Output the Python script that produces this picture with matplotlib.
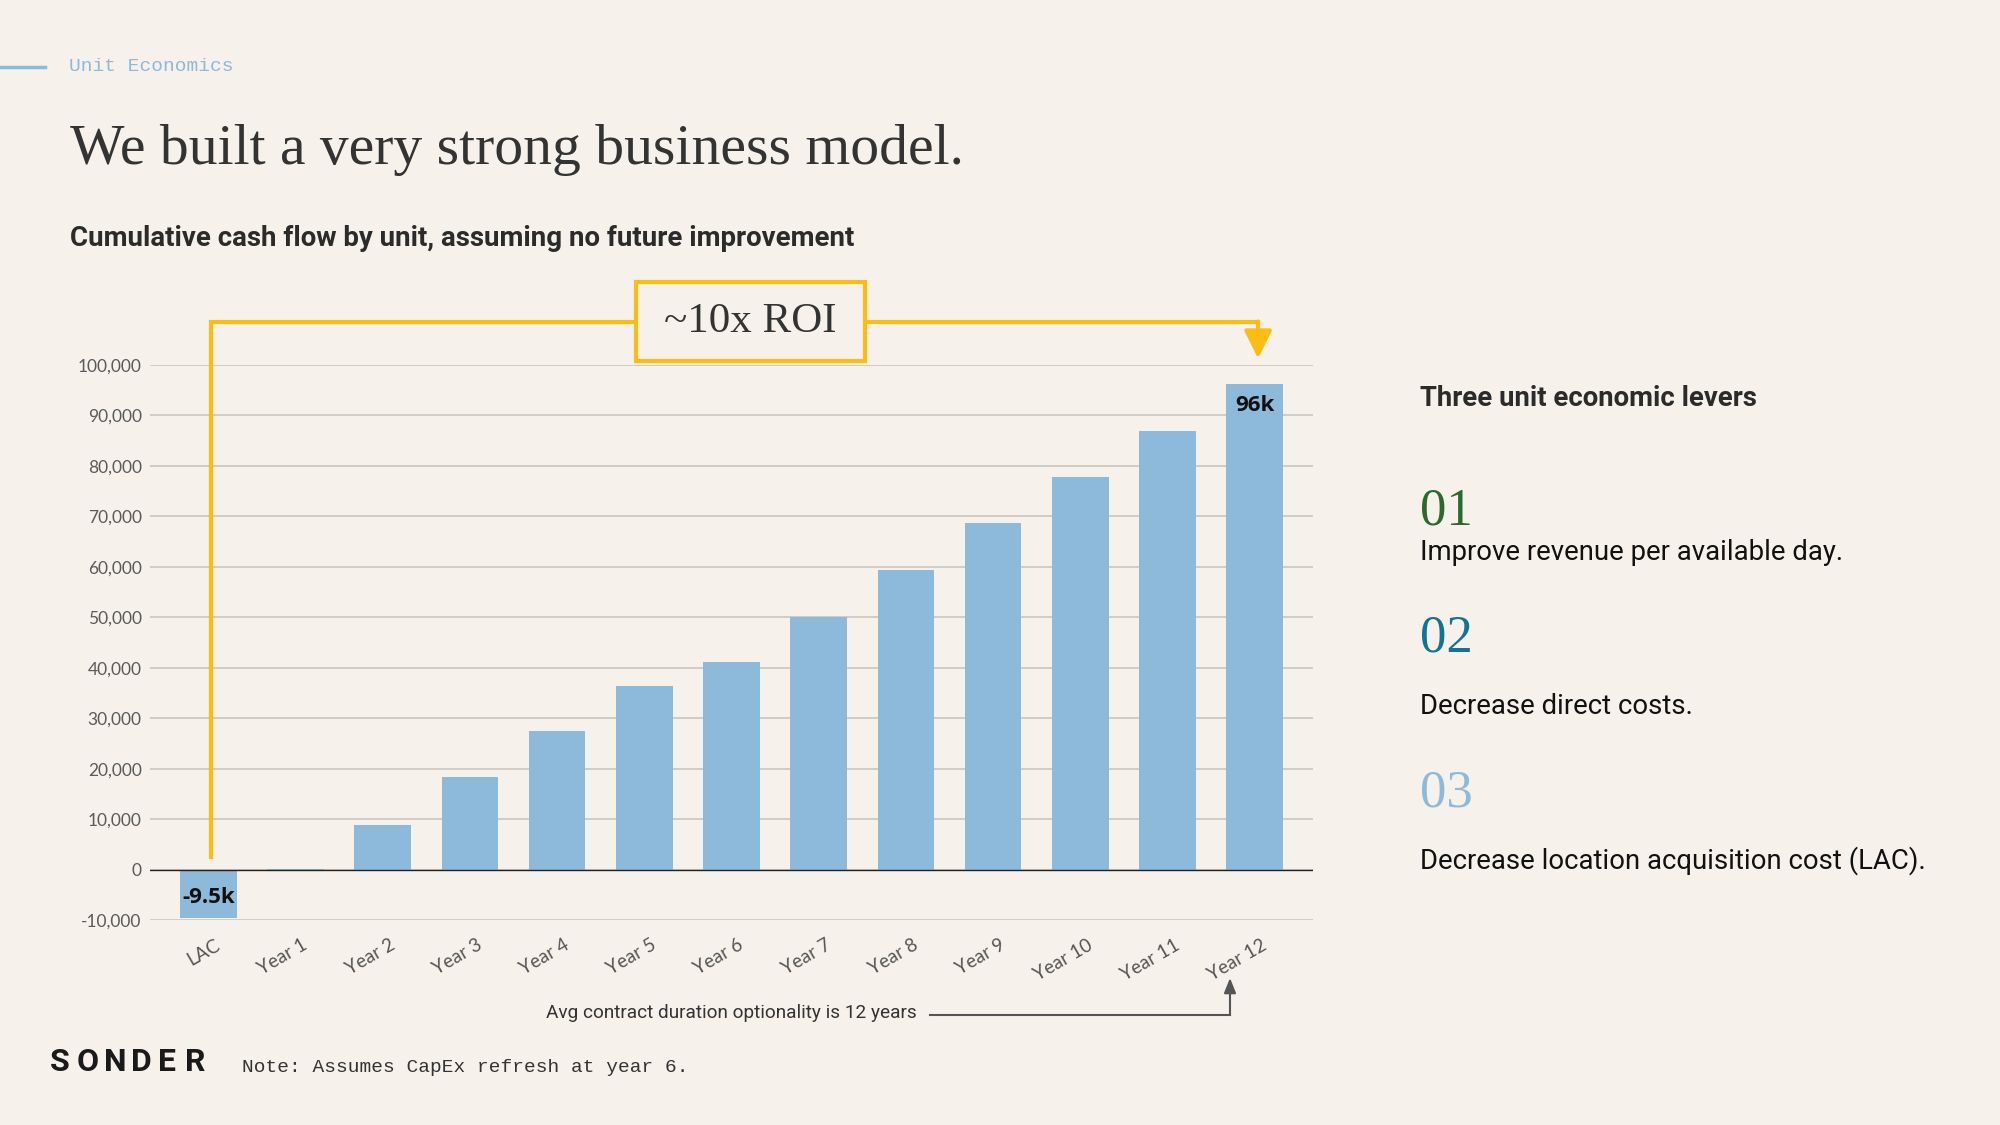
import matplotlib.pyplot as plt
from matplotlib.patches import Rectangle
from matplotlib.lines import Line2D
from matplotlib.transforms import ScaledTranslation

bg = '#f6f2eb'
bar_blue = '#8db9da'
yellow = '#fbbc14'

categories = ['LAC', 'Year 1', 'Year 2', 'Year 3', 'Year 4', 'Year 5', 'Year 6',
              'Year 7', 'Year 8', 'Year 9', 'Year 10', 'Year 11', 'Year 12']
cash_flow = [-9500, 200, 8800, 18300, 27400, 36400, 41200,
             50000, 59300, 68700, 77800, 86900, 96200]
bar_labels = {'LAC': '-9.5k', 'Year 12': '96k'}
y_ticks = list(range(-10000, 100001, 10000))

levers = ['Improve revenue per available day.',
          'Decrease direct costs.',
          'Decrease location acquisition cost (LAC).']
lever_nums = ['01', '02', '03']
lever_colors = ['#2b6a2e', '#127493', '#8db9da']

serif = 'Liberation Serif'
sans = 'Roboto'
mono = 'Liberation Mono'

fig = plt.figure(figsize=(20, 11.25), dpi=100, facecolor=bg)

# header
fig.add_artist(Line2D([0, 0.0225], [0.9405, 0.9405], color=bar_blue, lw=2.5))
fig.text(0.0345, 0.9405, 'Unit Economics', family=mono, fontsize=14,
         color=bar_blue, va='center')
fig.text(0.035, 0.8545, 'We built a very strong business model.', family=serif,
         fontsize=41.5, color='#333333', va='baseline')
fig.text(0.035, 0.788, 'Cumulative cash flow by unit, assuming no future improvement',
         family=sans, fontweight='bold', fontsize=19.9, color='#2b2b2b', va='center')

# chart
ax = fig.add_axes([0.075, 0.1822, 0.5815, 0.4934])
ax.set_facecolor(bg)
x = list(range(len(categories)))
ax.bar(x, cash_flow, width=0.65, color=bar_blue, zorder=2)
ax.set_xlim(-0.67, len(categories) - 0.33)
ax.set_ylim(y_ticks[0], y_ticks[-1])
ax.set_yticks(y_ticks)
ax.set_yticklabels([f'{v:,}' for v in y_ticks], family='Lato', fontsize=12.5, color='#5a5a5a')
ax.set_xticks(x)
ax.set_xticklabels([])
ax.tick_params(length=0)
ax.tick_params(axis='y', pad=6)
ax.yaxis.grid(True, color='#c6c2bc', lw=1.1, zorder=0)
ax.set_axisbelow(True)
ax.axhline(0, color='#222222', lw=1, zorder=3)
for s in ax.spines.values():
    s.set_visible(False)

# rotated category labels, anchored at their top-right corner
label_tf = ax.get_xaxis_transform() + ScaledTranslation(0.064, -0.164, fig.dpi_scale_trans)
for i, cat in enumerate(categories):
    ax.text(i, 0, cat, transform=label_tf, family='Lato', fontsize=13.5, color='#555555',
            rotation=30, ha='right', va='top', rotation_mode='anchor')

for i, cat in enumerate(categories):
    if cat in bar_labels:
        v = cash_flow[i]
        ty = v / 2 - 700 if v < 0 else v - 4300
        ax.text(i, ty, bar_labels[cat], ha='center', va='center', family='Open Sans',
                fontweight='bold', fontsize=16, color='#111111', zorder=4)

# ROI bracket
bracket_y = 108600
ax.plot([0.03, 0.03, 12.04], [2500, bracket_y, bracket_y], color=yellow, lw=3,
        clip_on=False, solid_joinstyle='miter', zorder=4)
ax.annotate('', xy=(12.04, 101300), xytext=(12.04, bracket_y),
            arrowprops=dict(arrowstyle='-|>,head_length=0.6,head_width=0.3', color=yellow,
                            lw=3, mutation_scale=28, shrinkA=0, shrinkB=0),
            annotation_clip=False, zorder=4)
ax.add_patch(Rectangle((4.91, 100800), 2.62, 15600, facecolor=bg, edgecolor=yellow,
                       lw=3, clip_on=False, zorder=5))
ax.text(6.22, bracket_y, '~10x ROI', family=serif, fontsize=31, color='#333333',
        ha='center', va='center', zorder=6)

# contract duration note
fig.text(0.273, 0.0996, 'Avg contract duration optionality is 12 years', family=sans,
         fontsize=13.7, color='#333333', va='center')
fig.add_artist(Line2D([0.465, 0.615], [0.0978, 0.0978], color='#555555', lw=1.5))
ax.annotate('', xy=(0.615, 0.1307), xytext=(0.615, 0.0978), xycoords='figure fraction',
            arrowprops=dict(arrowstyle='-|>,head_length=0.5,head_width=0.2', color='#555555',
                            lw=1.5, mutation_scale=18, shrinkA=0, shrinkB=0))

# footer
for k, ch in enumerate('SONDER'):
    fig.text(0.025 + k * 0.0135, 0.0556, ch, family=sans, fontweight='bold', fontsize=23,
             color='#1a1a1a', va='center')
fig.text(0.121, 0.051, 'Note: Assumes CapEx refresh at year 6.', family=mono, fontsize=14,
         color='#333333', va='center')

# right panel
fig.text(0.71, 0.6462, 'Three unit economic levers', family=sans, fontweight='bold',
         fontsize=19.8, color='#2b2b2b', va='center')
num_y = [0.5342, 0.4205, 0.2835]
text_y = [0.5093, 0.3716, 0.2347]
for num, col, ny, txt, ty in zip(lever_nums, lever_colors, num_y, levers, text_y):
    fig.text(0.71, ny, num, family=serif, fontsize=38, color=col, va='baseline')
    fig.text(0.71, ty, txt, family=sans, fontsize=19.8, color='#111111', va='center')

fig.savefig('out.png', dpi=100, facecolor=bg)
